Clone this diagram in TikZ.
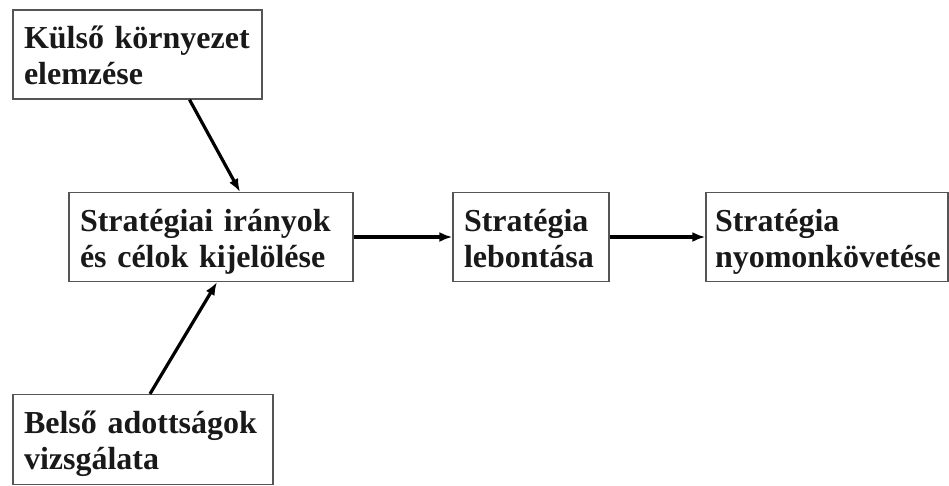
\documentclass[tikz,border=0pt]{standalone}
\usepackage{fontspec}
\setmainfont{Liberation Serif}
\usepackage{tikz}
\usetikzlibrary{arrows.meta,positioning}
\definecolor{frame}{RGB}{85,85,85}
\definecolor{ink}{RGB}{25,25,25}
\newcommand{\capstrut}{\rule{0pt}{35pt}}
\newcommand{\footstrut}{\rule[-11pt]{0pt}{11pt}}
\tikzset{
  stage/.style={
    rectangle, draw=frame, line width=1.3pt, align=left, inner xsep=11pt,
    minimum height=89pt, text=ink,
    font=\fontsize{32}{36}\selectfont\bfseries,
    execute at begin node=\capstrut, execute at end node=\footstrut
  },
  flow/.style={-{Latex[length=13pt,width=10pt]}, line width=3.2pt}
}
\begin{document}
\begin{tikzpicture}[x=1pt, y=-1pt]
\useasboundingbox (0,0) rectangle (949,485);
\node[stage, text width=227pt] (kulso) at (137.5,54.5) {Külső környezet\\elemzése};
\node[stage, text width=262pt] (celok) at (211,237) {Stratégiai irányok\\és célok kijelölése};
\node[stage, text width=134pt] (lebont) at (531,237) {Stratégia\\lebontása};
\node[stage, text width=224pt, inner xsep=9pt] (kovet) at (827,237) {Stratégia\\nyomonkövetése};
\node[stage, text width=238pt, minimum height=90pt] (belso) at (143,439.5) {Belső adottságok\\vizsgálata};
\draw[flow] ([xshift=52pt]kulso.south) -- ([xshift=29pt]celok.north);
\draw[flow] ([xshift=7pt]belso.north) -- ([xshift=6pt]celok.south);
\draw[flow] (celok) -- (lebont);
\draw[flow] (lebont) -- (kovet);
\end{tikzpicture}
\end{document}
